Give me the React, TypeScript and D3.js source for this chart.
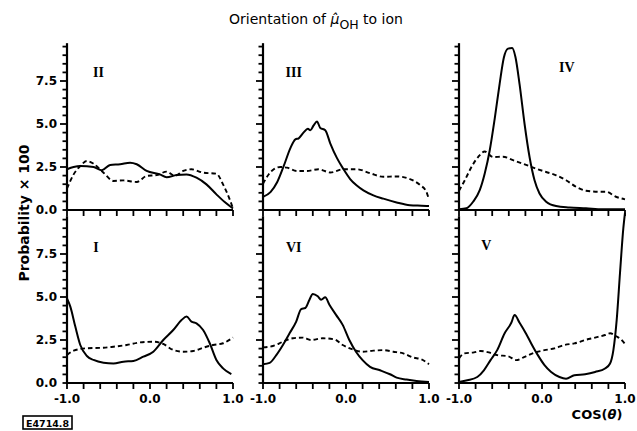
import React from "react";
import * as d3 from "d3";

// Probability distributions (× 100) of cos(θ) for each shell region.
// Each series is a list of [cosθ, probability×100] pairs.
const solidII: [number, number][] = [
  [-1.0, 2.37], [-0.92, 2.5], [-0.84, 2.56], [-0.68, 2.5], [-0.58, 2.31], [-0.48, 2.62],
  [-0.36, 2.66], [-0.24, 2.75], [-0.16, 2.66], [-0.04, 2.27], [0.12, 2.07], [0.2, 1.9],
  [0.32, 2.03], [0.44, 2.07], [0.56, 1.88], [0.68, 1.49], [0.8, 0.91], [0.9, 0.46], [1.0, 0.09],
];
const dashedII: [number, number][] = [
  [-1.0, 1.25], [-0.92, 2.07], [-0.84, 2.56], [-0.76, 2.85], [-0.68, 2.69], [-0.56, 2.17],
  [-0.44, 1.69], [-0.32, 1.72], [-0.16, 1.63], [-0.04, 1.98], [0.08, 2.03], [0.2, 2.23],
  [0.3, 1.98], [0.4, 2.27], [0.5, 2.37], [0.64, 2.17], [0.8, 2.11], [0.88, 1.49], [0.96, 0.62], [1.0, 0.09],
];
const solidIII: [number, number][] = [
  [-1.0, 0.76], [-0.91, 1.04], [-0.83, 1.61], [-0.75, 2.56], [-0.67, 3.6], [-0.61, 4.11],
  [-0.57, 4.17], [-0.51, 4.51], [-0.46, 4.73], [-0.43, 4.64], [-0.39, 4.92], [-0.35, 5.15],
  [-0.31, 4.77], [-0.25, 4.64], [-0.19, 3.88], [-0.11, 3.03], [-0.03, 2.37], [0.05, 1.8],
  [0.13, 1.42], [0.21, 1.14], [0.33, 0.85], [0.45, 0.66], [0.61, 0.44], [0.77, 0.28], [0.91, 0.25], [1.0, 0.23],
];
const dashedIII: [number, number][] = [
  [-1.0, 1.52], [-0.93, 2.08], [-0.87, 2.37], [-0.79, 2.5], [-0.71, 2.46], [-0.59, 2.27],
  [-0.47, 2.27], [-0.33, 2.37], [-0.19, 2.18], [-0.03, 2.37], [0.13, 2.37], [0.29, 2.14],
  [0.45, 1.93], [0.61, 1.95], [0.77, 1.8], [0.89, 1.46], [0.97, 1.04], [0.99, 0.76],
];
const solidIV: [number, number][] = [
  [-1.0, 0.04], [-0.91, 0.1], [-0.83, 0.48], [-0.75, 1.15], [-0.69, 2.12], [-0.63, 3.46],
  [-0.57, 5.3], [-0.51, 7.35], [-0.46, 8.85], [-0.41, 9.38], [-0.36, 9.42], [-0.32, 8.9],
  [-0.27, 7.3], [-0.21, 5.0], [-0.15, 3.08], [-0.09, 1.73], [-0.03, 0.96], [0.05, 0.48],
  [0.17, 0.23], [0.33, 0.15], [0.53, 0.1], [0.73, 0.04], [1.0, 0.04],
];
const dashedIV: [number, number][] = [
  [-1.0, 1.12], [-0.93, 1.73], [-0.85, 2.5], [-0.77, 3.08], [-0.69, 3.4], [-0.59, 3.08],
  [-0.47, 3.1], [-0.35, 2.9], [-0.23, 2.69], [-0.07, 2.4], [0.05, 2.21], [0.17, 2.02],
  [0.29, 1.73], [0.41, 1.35], [0.53, 1.12], [0.69, 1.06], [0.77, 1.06], [0.89, 0.77], [1.0, 0.62],
];
const solidI: [number, number][] = [
  [-1.0, 4.92], [-0.96, 4.44], [-0.9, 3.28], [-0.84, 2.21], [-0.76, 1.57], [-0.68, 1.34],
  [-0.56, 1.18], [-0.44, 1.14], [-0.32, 1.24], [-0.2, 1.28], [-0.08, 1.53], [0.04, 1.82],
  [0.16, 2.5], [0.28, 3.08], [0.38, 3.66], [0.44, 3.86], [0.5, 3.57], [0.56, 3.47],
  [0.64, 3.08], [0.72, 2.31], [0.8, 1.34], [0.88, 0.85], [0.98, 0.52],
];
const dashedI: [number, number][] = [
  [-1.0, 1.63], [-0.92, 1.88], [-0.76, 2.02], [-0.56, 2.05], [-0.44, 2.11], [-0.28, 2.21],
  [-0.12, 2.36], [0.04, 2.4], [0.16, 2.27], [0.28, 1.92], [0.4, 1.82], [0.52, 1.86],
  [0.64, 2.05], [0.76, 2.21], [0.88, 2.31], [1.0, 2.65],
];
const solidVI: [number, number][] = [
  [-1.0, 1.09], [-0.92, 1.17], [-0.84, 1.62], [-0.76, 2.21], [-0.68, 2.89], [-0.6, 3.57],
  [-0.54, 4.3], [-0.49, 4.36], [-0.44, 4.84], [-0.4, 5.18], [-0.34, 5.04], [-0.3, 4.84],
  [-0.25, 4.98], [-0.2, 4.55], [-0.12, 3.96], [-0.04, 3.38], [0.04, 2.5], [0.12, 1.82],
  [0.2, 1.33], [0.29, 0.94], [0.41, 0.74], [0.53, 0.51], [0.61, 0.31], [0.73, 0.2], [0.85, 0.12], [1.0, 0.06],
];
const dashedVI: [number, number][] = [
  [-1.0, 2.07], [-0.88, 2.15], [-0.76, 2.4], [-0.64, 2.6], [-0.52, 2.64], [-0.42, 2.5],
  [-0.28, 2.6], [-0.14, 2.54], [-0.04, 2.21], [0.08, 1.95], [0.2, 1.82], [0.33, 1.88],
  [0.45, 1.91], [0.57, 1.82], [0.69, 1.72], [0.81, 1.48], [0.91, 1.37], [1.0, 1.09],
];
const solidV: [number, number][] = [
  [-1.0, 0.06], [-0.9, 0.16], [-0.78, 0.35], [-0.7, 0.74], [-0.62, 1.33], [-0.54, 1.91],
  [-0.45, 2.89], [-0.37, 3.5], [-0.33, 3.95], [-0.27, 3.5], [-0.19, 2.85], [-0.13, 2.3],
  [-0.05, 1.62], [0.03, 1.04], [0.11, 0.64], [0.21, 0.35], [0.29, 0.25], [0.39, 0.45],
  [0.52, 0.51], [0.64, 0.64], [0.76, 0.84], [0.82, 1.13], [0.86, 1.91], [0.9, 3.67],
  [0.94, 6.41], [0.98, 9.0], [1.0, 9.9],
];
const dashedV: [number, number][] = [
  [-1.0, 1.43], [-0.94, 1.72], [-0.82, 1.78], [-0.74, 1.86], [-0.64, 1.78], [-0.54, 1.62],
  [-0.41, 1.56], [-0.31, 1.33], [-0.21, 1.52], [-0.09, 1.76], [0.03, 1.91], [0.15, 2.01],
  [0.27, 2.21], [0.39, 2.3], [0.52, 2.5], [0.64, 2.64], [0.76, 2.79], [0.82, 2.89],
  [0.9, 2.7], [0.96, 2.5], [1.0, 2.27],
];

// Panel arrangement: column / row in the 3 × 2 grid
const panelNames = ["II", "III", "IV", "I", "VI", "V"];
const panelCols = [0, 1, 2, 0, 1, 2];
const panelRows = [0, 0, 0, 1, 1, 1];
const panelSolid = [solidII, solidIII, solidIV, solidI, solidVI, solidV];
const panelDashed = [dashedII, dashedIII, dashedIV, dashedI, dashedVI, dashedV];

const xTicks = d3.range(-1, 1.0001, 0.2);
const xTickLabels = [-1, 0, 1];
const yTicks = d3.range(0, 9.51, 0.5);
const yTickLabels = [0, 2.5, 5, 7.5];

const W = 637;
const H = 431;
const colLeft = [67, 263, 459];
const panelW = 166;
const rowZero = [210, 383];
const yMax = 9.7;
const pxPerUnit = 17.2;

const labelFont = "'DejaVu Sans', sans-serif";
const numeralFont = "'Liberation Serif', serif";

function fmt(v: number) {
  return v.toFixed(1);
}

function Panel({ i }: { i: number }) {
  const left = colLeft[panelCols[i]];
  const zero = rowZero[panelRows[i]];
  const x = d3.scaleLinear().domain([-1, 1]).range([left, left + panelW]);
  const y = d3.scaleLinear().domain([0, yMax]).range([zero, zero - yMax * pxPerUnit]);
  const line = d3
    .line<[number, number]>()
    .x((d) => x(d[0]))
    .y((d) => y(d[1]))
    .curve(d3.curveMonotoneX);
  const isLeft = panelCols[i] === 0;
  const isBottom = panelRows[i] === 1;
  const labelPos: Record<string, [number, number]> = {
    II: [-0.62, 8.0], III: [-0.63, 8.0], IV: [0.3, 8.3], I: [-0.65, 7.9], VI: [-0.63, 7.9], V: [-0.67, 8.0],
  };
  const [lx, ly] = labelPos[panelNames[i]];
  return (
    <g>
      {/* axes */}
      <line x1={x(-1)} x2={x(1)} y1={y(0)} y2={y(0)} stroke="#000" strokeWidth={2.2} />
      <line x1={x(-1)} x2={x(-1)} y1={y(0) + 1} y2={y(yMax)} stroke="#000" strokeWidth={2.2} />
      {yTicks.map((t) => {
        const major = Math.abs(t / 2.5 - Math.round(t / 2.5)) < 1e-6 && t > 0;
        return (
          <line
            key={"y" + t}
            x1={x(-1) - (major ? 7 : 4.5)}
            x2={x(-1)}
            y1={y(t)}
            y2={y(t)}
            stroke="#000"
            strokeWidth={1.8}
          />
        );
      })}
      {xTicks.map((t) => (
        <line key={"x" + t} x1={x(t)} x2={x(t)} y1={y(0)} y2={y(0) + 6} stroke="#000" strokeWidth={1.8} />
      ))}
      {isLeft &&
        yTickLabels.map((t) => (
          <text
            key={"yl" + t}
            x={x(-1) - 10}
            y={y(t)}
            dy="0.35em"
            textAnchor="end"
            fontFamily={labelFont}
            fontWeight="bold"
            fontSize={12}
          >
            {fmt(t)}
          </text>
        ))}
      {isBottom &&
        xTickLabels.map((t) => (
          <text
            key={"xl" + t}
            x={x(t)}
            y={y(0) + 16}
            dy="0.35em"
            textAnchor="middle"
            fontFamily={labelFont}
            fontWeight="bold"
            fontSize={12}
          >
            {fmt(t)}
          </text>
        ))}
      {/* curves */}
      <path d={line(panelDashed[i]) || ""} fill="none" stroke="#000" strokeWidth={1.9} strokeDasharray="4.5,3" />
      <path d={line(panelSolid[i]) || ""} fill="none" stroke="#000" strokeWidth={2} strokeLinejoin="round" />
      <text
        x={x(lx)}
        y={y(ly)}
        dy="0.35em"
        textAnchor="middle"
        fontFamily={numeralFont}
        fontWeight="bold"
        fontSize={14}
      >
        {panelNames[i]}
      </text>
    </g>
  );
}

export default function App() {
  return (
    <svg
      width={W}
      height={H}
      viewBox={`0 0 ${W} ${H}`}
      style={{ position: "absolute", left: 0, top: 0, background: "#fff" }}
    >
      <rect width={W} height={H} fill="#fff" />
      <text x={316} y={24} textAnchor="middle" fontFamily={labelFont} fontSize={14}>
        <tspan>Orientation of </tspan>
        <tspan fontStyle="italic">μ̂</tspan>
        <tspan fontSize={12.5} dy={5}>OH</tspan>
        <tspan dy={-5}> to ion</tspan>
      </text>
      <text
        transform="translate(24,213) rotate(-90)"
        textAnchor="middle"
        dy="0.35em"
        fontFamily={labelFont}
        fontWeight="bold"
        fontSize={14}
      >
        Probability × 100
      </text>
      {panelNames.map((_, i) => (
        <Panel key={i} i={i} />
      ))}
      <text x={597} y={419} textAnchor="middle" fontFamily={labelFont} fontWeight="bold" fontSize={13}>
        COS(
        <tspan fontStyle="italic">θ</tspan>)
      </text>
      <rect x={23} y={416} width={49} height={13} fill="none" stroke="#000" strokeWidth={1.6} />
      <text x={47.5} y={426.5} textAnchor="middle" fontFamily={labelFont} fontWeight="bold" fontSize={9.5}>
        E4714.8
      </text>
    </svg>
  );
}
